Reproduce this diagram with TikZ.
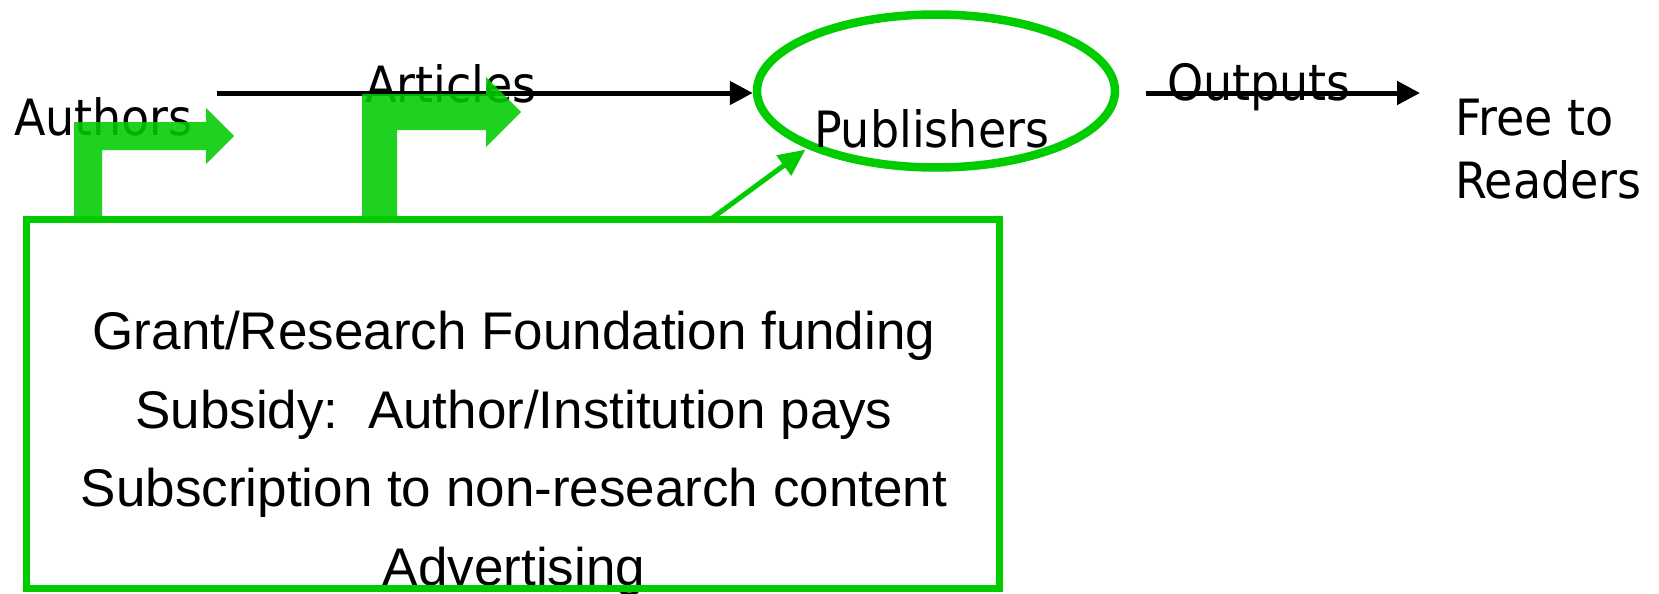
\documentclass[tikz,border=0pt]{standalone}
\usepackage{fontspec}
\setmainfont{Liberation Sans}
\newfontfamily\verd[FakeStretch=0.92]{DejaVu Sans}
\usetikzlibrary{arrows.meta,calc,shapes.geometric}
\definecolor{grn}{RGB}{0,204,0}
\begin{document}
\begin{tikzpicture}[x=1pt,y=-1pt,
  toplbl/.style={inner sep=0pt, outer sep=0pt, anchor=base west, font=\verd\fontsize{50}{60}\selectfont},
  boxtxt/.style={inner sep=0pt, outer sep=0pt, anchor=base, font=\fontsize{53}{64}\selectfont},
  blackarrow/.style={line width=5pt, -{Triangle[length=23pt,width=23pt]}},
  fatarrow/.style={fill=grn, fill opacity=0.88, draw=none},
  thinarrow/.style={draw=grn, line width=5pt, -{Triangle[length=27pt,width=24pt]}}]
\useasboundingbox (0,0) rectangle (1659,594);
% labels
\node[toplbl] (authors) at (14,135) {Authors};
\node[toplbl] (articles) at (365,102) {Articles};
\node[toplbl] (outputs) at (1167,100) {Outputs};
\node[toplbl] (free) at (1455,135) {Free to};
\node[toplbl] (readers) at (1455,198) {Readers};
% publishers ellipse
\node[draw=grn, line width=8.5pt, ellipse, minimum width=358pt, minimum height=153pt, inner sep=0pt] (pub) at (936,91) {};
\node[toplbl] (pubtext) at (814,147) {Publishers};
% black arrows
\coordinate (a1) at (217,93);
\coordinate (o1) at (1146,93);
\coordinate (o2) at (1420,93);
\draw[blackarrow] (a1) -- (pub.west |- a1);
\draw[blackarrow] (o1) -- (o2);
% fat green bent arrows
\fill[fatarrow] (74,219) -- (74,122) -- (206,122) -- (206,108) -- (234,136) -- (206,164) -- (206,150) -- (102,150) -- (102,219) -- cycle;
\fill[fatarrow] (362,219) -- (362,94) -- (486,94) -- (486,77) -- (521,112) -- (486,147) -- (486,130) -- (397,130) -- (397,219) -- cycle;
% box
\node[fill=white, minimum width=973pt, minimum height=369pt, inner sep=0pt, outer sep=0pt, anchor=north west] (box) at (26,219) {};
\node[boxtxt] (l1) at (514,349) {Grant/Research Foundation funding};
\node[boxtxt] (l2) at (514,428) {Subsidy:\ \ Author/Institution pays};
\node[boxtxt] (l3) at (514,506) {Subscription to non-research content};
\node[boxtxt] (l4) at (514,585) {Advertising};
\draw[grn, line width=7pt] (box.north west) rectangle (box.south east);
% thin arrow
\draw[thinarrow, shorten >=2pt] ($(box.north west)!0.704!(box.north east)$) -- (pub.204);
\end{tikzpicture}
\end{document}
